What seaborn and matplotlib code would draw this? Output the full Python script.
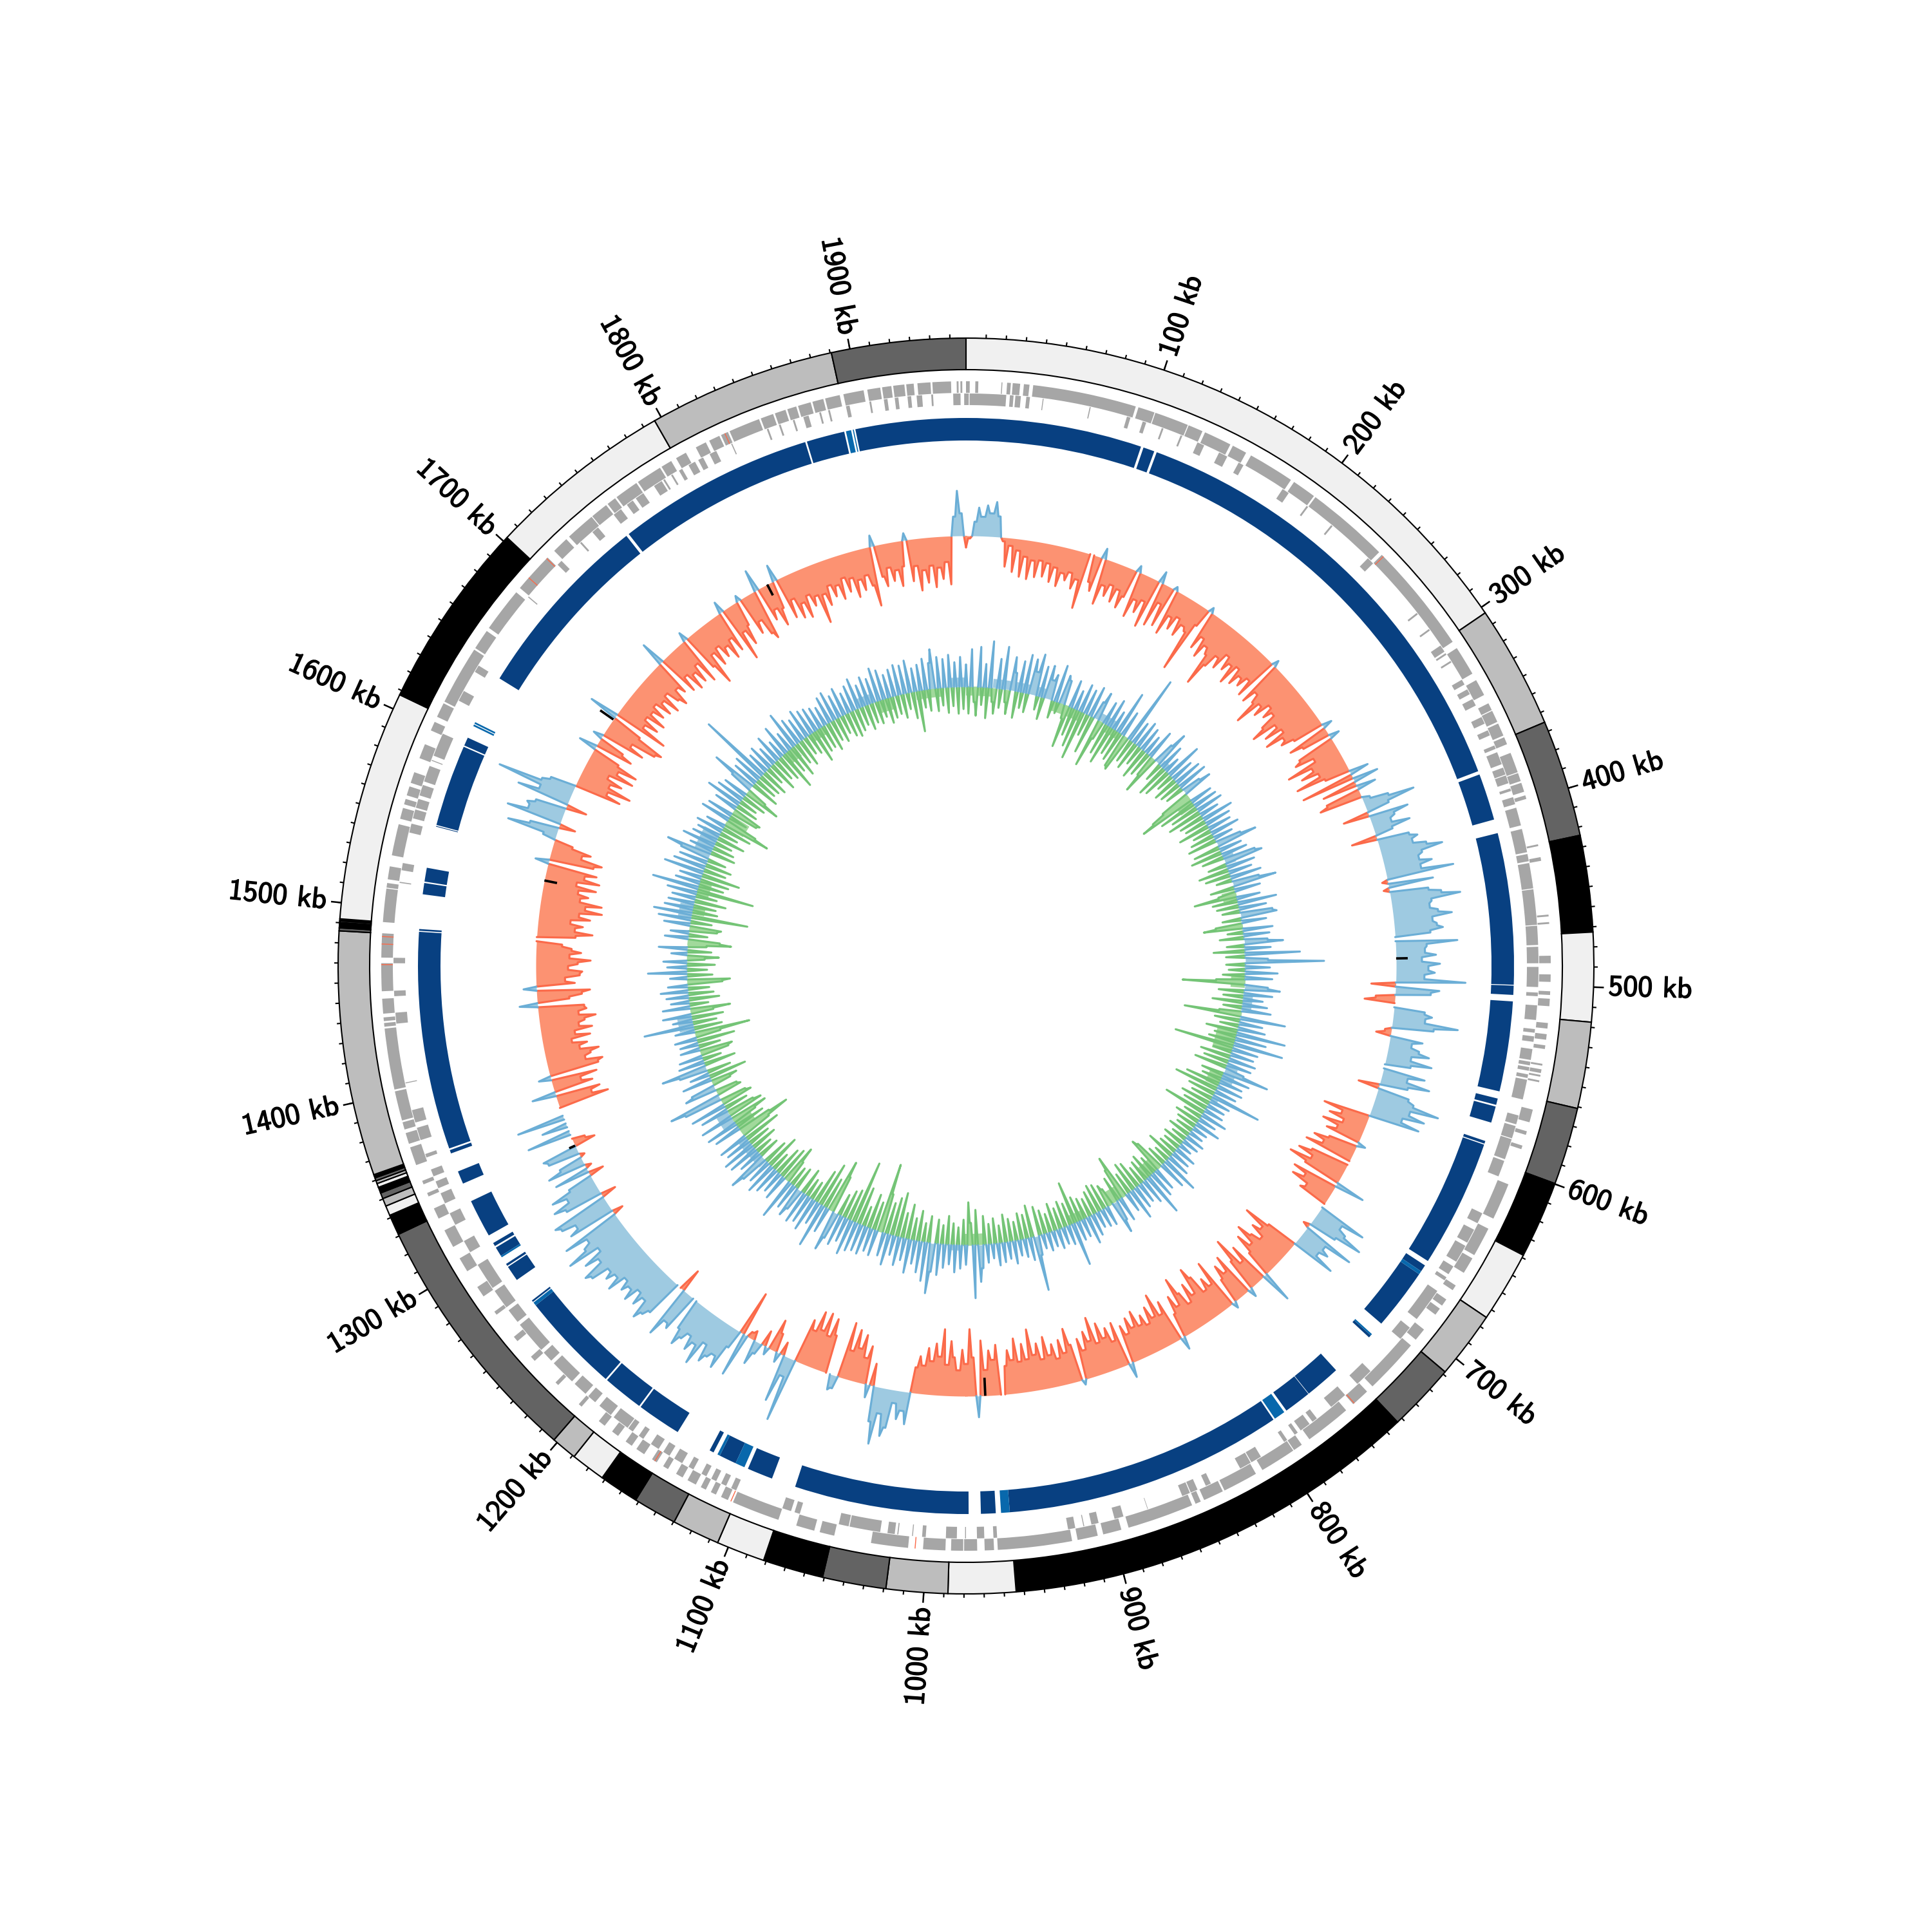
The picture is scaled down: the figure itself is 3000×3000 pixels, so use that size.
import numpy as np
import pandas as pd
import matplotlib
matplotlib.use("Agg")
import matplotlib.pyplot as plt
import matplotlib.patheffects as pe
import seaborn as sns

GENOME_KB = 1962
RULER_KB = 1958
WINDOW_KB = 3

BAND_STARTS = [0,304,366,425,473.6,518.5,562,601,640,676,710,744.4,956,990,1021,1053,1083.5,1108,1132,1154,1174,1191.5,1204.5,
               1333.6,1344,1349,1353,1356,1359,1361,1362.5,1364,1365,1365.7,1489,1490.5,1492,1492.6,1493.2,1494,1495,1611,1706,1800,1894.5]
BAND_TONES = list("lgdblgdblgdblgdblgdblgd" + "blgdblgdblg" + "dblgdb" + "lblgd")

COVERED_DARK = [(1898.5,1962),(0,101.5),(103,109.5),(111,377),(379,406),(414,501.2),(501.7,507),(510.7,562.6),(566.8,570.5),(571.5,581),
                (592,593.6),(594.2,668),(671,675),(677,712.5),(721.5,723),(749.5,770),(770.3,786),(795,956),(964,972.5),(979.5,1080),
                (1094,1108.8),(1116.5,1126.5),(1130.5,1133),(1154,1179.5),(1180.5,1204),(1205,1263),(1265.5,1266.5),(1281,1290),
                (1290.7,1292),(1297.5,1303),(1304,1306),(1311,1333),(1344,1351.5),(1362.5,1364.5),(1365.5,1491),(1491.6,1492.6),
                (1512.5,1519),(1519.8,1527.8),(1551.8,1552.2),(1552.8,1600),(1600.8,1605.7),(1644,1753.3),(1755,1869),(1870,1892)]
COVERED_LIGHT = [(1893,1896),(1897,1897.6),(675,677),(720.5,721.5),(787.5,794),(956,961),(1111,1116.5),(1126.5,1128),(1263,1265),
                 (1296.5,1297.5),(1613,1614),(1614.5,1615.5)]

GENES_OUTER = [(0,2),(5,6.6),(19,19.5),(22,24),(25,29),(31,34),(36,92),(93.5,102.5),(103,121.5),(122,130),(131.5,146.5),(148,156),(159,184),
               (186,199),(200,245),(247,307),(311,327),(331,340),(345,349),(349.5,356),(357,364),(365,369),(374,385),(385.5,390),(391,396),
               (398,400),(425,426),(432,434),(463,464),(467,468),(485,489),(495,499),(504,506),(508,512),(521,524),(527,530),(533,535),
               (543,544),(546,548),(549,550),(552,553),(568,575),(580,582),(588,590),(610,630),(636,652),(654,663),(671,674),(680,684),
               (686,690),(700,707),(711,741),(745,755),(760,785),(790,795),(795.5,815),(819,838),(839,850),(852,855),(857,893),(897,907),
               (910,921),(924,964),(966,971),(975,982),(982.5,989),(992,1004),(1012,1032),(1052,1060),(1063,1073),(1083,1109),(1112,1116),
               (1119,1122),(1125,1128),(1131,1136),(1139,1143),(1148,1151),(1155,1158),(1163,1168),(1171,1175),(1180,1184),(1189,1193),
               (1205,1207),(1222,1224),(1240,1243),(1254,1257),(1272,1274),(1284,1290),(1300,1308),(1315,1325),(1332,1338),(1345,1347),
               (1352,1354),(1363,1373),(1375,1381),(1383,1387),(1388,1404),(1405,1438),(1439,1441),(1442,1444),(1446,1454),(1458,1473),
               (1476,1489),(1495,1513),(1513.5,1516),(1518,1525),(1531,1548),(1551,1557),(1559,1562),(1564,1569),(1571,1577),(1585,1593),
               (1601,1606),(1609,1617),(1618,1650),(1651,1662),(1664,1688),(1691,1713),(1718,1727),(1729,1745),(1745.5,1755),(1756,1761),
               (1762,1775),(1776,1790),(1791,1797),(1800,1806),(1812,1818),(1820,1826),(1827,1831),(1832,1849),(1850,1857),(1858,1864),
               (1865,1870),(1871,1878),(1879,1885),(1886,1894),(1896,1907),(1909,1916),(1917,1922),(1923,1929),(1930,1934),(1936,1943),
               (1944,1954),(1957,1958),(1959,1960)]
GENES_INNER = [(0,1.5),(2,22),(24,26),(27,30),(33,35),(42,42.5),(68,68.6),(89,91),(98,100),(109,110),(120,121),(130,134),(143,148),(155,158),
               (183,187),(199,200),(216,217),(243,247),(283,284),(294,295),(305,309),(310,311),(315,316),(327,330),(333,336),(339,343),
               (350,354),(358,361),(367,369),(371,378),(380,384),(384.5,389),(392,393.5),(397,401),(403,413),(415,428),(429,433),(434,448),
               (448.5,468),(468.5,479),(480,489),(491,502),(505,507),(512,520),(525,527),(529,532),(536,542),(543,545),(546,548),(550,552),
               (553,564),(573,578),(579,586),(586.5,598),(599,608),(630,636),(640,648),(650,660),(663,668),(670,672),(679,698),(704,712),
               (736,746),(755,765),(775,778),(780,786),(788,790),(795,797),(812,818),(818.5,825),(843,846),(851,855),(855.5,860),(880,880.3),
               (894,899),(908,912),(916,916.5),(921,925),(964,966),(971,975),(981,981.5),(986,992),(1003,1005),(1010,1010.5),(1018,1018.6),
               (1020,1024),(1028,1045),(1045.5,1051),(1073,1076),(1078,1083),(1110,1113),(1116,1119),(1122,1125),(1128,1131),(1136,1139),
               (1143,1148),(1151,1155),(1158,1163),(1168,1171),(1175,1178),(1178.5,1188),(1190,1198),(1201,1206),(1208,1216),(1218,1232),
               (1234,1240),(1242,1260),(1262,1270),(1272,1283),(1285,1300),(1308,1315),(1325,1332),(1338,1344),(1347,1351),(1354,1358),
               (1365,1367),(1375,1382),(1385,1392),(1407,1407.5),(1440,1446),(1455,1458),(1473,1476),(1517,1517.6),(1524,1528),(1545,1550),
               (1553,1558),(1559,1564),(1566,1572),(1574,1583),(1586,1586.5),(1589,1602),(1622,1628),(1640,1644),(1690,1690.6),(1714,1717),
               (1731,1732),(1740,1744),(1755,1760),(1764,1768),(1770,1775),(1782,1787),(1788,1789),(1793,1794),(1798,1800),(1804,1808),
               (1810,1813),(1817,1821),(1830,1830.6),(1851,1852),(1858,1859),(1866,1867),(1872,1875),(1881,1882),(1886,1887),(1896,1898),
               (1909,1910),(1917,1919),(1923,1925),(1930,1932),(1935,1938),(1943,1944),(1955,1959),(1961,1962)]
GENES_RED = [248,754,1008,1110,1156,1472,1483,1487,1698,1712,1829]

OUTER_TRACK = [
 -18,-4,22,44,30,48,36,54,32,-6,-45,-12,-52,-18,-58,-26,-60,-30,-55,-28,
 -52,-30,-58,-34,-62,-40,-50,-36,-60,-44,-88,0,-42,-55,16,-72,-40,-55,-35,-60,
 -38,-65,-45,10,-72,-42,-60,-38,-78,18,-70,-30,-65,6,-72,-40,-58,-35,-62,-42,
 -48,-111,-30,8,-62,-40,-70,-48,-58,-108,-72,-50,-66,-38,-60,-46,-75,-42,-68,-50,
 -62,-44,-70,10,-72,-50,-64,-99,-58,-74,-48,-66,-52,-78,-99,-60,-84,-56,-90,-62,
 -70,-50,15,-65,-45,16,-60,-70,-40,-89,-50,-72,-45,-86,-40,30,-84,40,-55,30,
 -55,-68,12,40,80,36,-41,62,38,30,58,28,-40,50,62,52,72,96,62,55,
 74,55,105,-9,70,-9,60,79,108,62,58,70,91,60,66,75,55,0,96,48,
 45,62,40,68,50,60,44,108,-38,68,55,-30,-47,0,48,60,50,102,65,-10,
 -23,51,35,48,65,38,72,40,0,66,40,77,44,-33,50,60,102,58,84,50,
 80,-73,-42,-60,-35,-66,-40,-55,13,-45,-68,-50,-76,0,-60,-80,-55,-89,-60,47,
 -72,-50,-68,-40,-47,0,78,42,55,87,45,-10,84,40,52,38,70,-50,-90,-55,
 -68,-45,-60,-82,-50,-72,-42,50,-65,-40,-88,-52,14,-70,-45,-62,-40,10,-81,-44,
 -60,-42,-72,-90,-48,-70,-40,-62,-90,-46,-66,-38,20,-67,-48,-85,-50,-70,-44,-62,
 -48,-74,-50,-68,-44,-60,23,-70,-42,-66,-52,-78,-48,-91,-55,-72,-44,-64,8,-58,
 -85,-48,-70,-42,-66,-50,-80,-46,-72,-55,-96,-50,-75,-48,-85,-52,-68,-44,0,-78,
 -55,-70,-40,-86,33,-60,-104,-50,-72,-40,-60,-85,-48,-103,-60,-80,-52,-72,-44,-58,
 -40,50,30,44,20,60,74,40,89,55,-35,20,-60,-40,-75,-52,-80,-45,-88,20,
 24,0,-60,-85,-55,-90,-60,-88,-55,-70,100,30,74,-21,15,-30,-50,12,-25,18,
 38,-15,-10,69,-71,30,70,52,60,72,45,85,55,70,48,60,75,50,0,62,
 55,83,-37,0,60,70,82,52,68,48,72,55,66,50,79,58,72,60,88,96,
 62,84,52,103,70,58,94,-17,75,60,82,90,-24,60,78,50,73,40,-24,55,
 -10,60,38,-8,50,56,-34,-20,0,69,0,40,0,75,0,0,-80,-55,-70,37,
 -62,-45,-72,19,-78,-86,-60,-70,-84,-55,-68,-45,-75,-52,-80,-60,-70,-88,-62,-75,
 -72,28,-50,-70,-83,20,-60,-45,-68,-72,-50,-65,-85,-52,-70,-55,-40,0,-60,-86,
 -58,-70,-50,-80,-62,-97,-70,-95,-60,-72,-55,-82,-50,-85,-60,-78,21,-70,-82,-48,
 -61,-30,20,79,45,-26,87,55,60,48,-33,83,50,121,52,40,-74,-50,-86,-48,
 -66,-40,-79,-50,-79,-45,28,-60,-42,15,-70,-46,-85,-94,-50,46,-87,-45,-66,-40,
 -70,-42,-60,-38,-64,-44,-70,-40,-60,-72,-46,-58,38,-66,-42,-72,-48,-68,-40,-76,
 14,-60,-93,-44,-68,-40,-62,-48,-72,-42,-66,18,-89,-45,-70,-40,9,-62,-44,-70,
 -80,34,-55,-40,-70,-44,26,-66,-38,-72,-50,-76,-42,-62,-48,-94,-50,-70,-40,-60,
 -44,-68,-36,-60,-40,-72,-46,-64,-42,-60,-93,17,-50,-66,-38,-60,-44,-70,-40,11,
 -65,-42,-81,-50,-70,-44,-78,-48,-66,-40,-75,30,70,35]

INNER_TRACK = [
 34,-42,58,-24,-45,62,-28,36,-48,72,-22,-40,46,-30,66,-20,-38,52,28,-42,
 48,-25,60,-30,55,36,65,-22,48,-35,52,30,40,-28,58,-18,45,38,-22,-67,
 43,-45,30,-60,44,-77,39,-35,48,-60,28,45,-77,-30,36,-50,45,-62,30,-42,
 68,-48,40,-55,-59,109,-38,36,-45,43,-32,38,-50,30,-40,46,-35,-63,34,58,
 -30,40,-52,25,-46,58,-28,36,-40,44,-35,48,-30,30,47,-48,-70,-90,35,-60,
 38,-45,42,-55,30,-40,49,-35,40,-50,36,-30,45,-38,30,-46,40,64,-42,35,
 -50,40,-35,50,60,-30,44,-48,36,-40,48,-25,42,68,-38,40,-28,-67,36,-40,
 60,-35,42,-28,50,56,-30,38,-42,-61,46,-25,40,-38,36,60,-28,40,-49,85,
 -30,35,122,-30,38,-26,50,-35,42,-45,-97,36,55,-40,44,-32,30,-48,38,-30,
 45,-35,-89,70,-40,36,-30,42,-50,76,-35,48,-42,77,-94,40,-30,36,-48,42,
 -40,38,-52,30,71,-36,44,-32,36,-55,40,-70,34,-44,78,-35,32,-48,28,-40,
 30,-68,41,-30,28,-40,40,-32,24,-28,22,-36,30,-25,26,-34,20,-28,34,-30,
 30,-45,36,-26,59,-32,44,-50,-58,36,-30,42,-40,67,-35,40,-30,32,-44,36,
 -48,49,-35,30,-70,-50,38,-40,32,51,-28,-36,30,-42,28,-45,25,-38,34,-30,
 43,-34,28,-40,30,-67,67,-36,30,-42,26,-34,30,-44,24,-30,28,-38,22,-46,
 30,85,-51,35,-38,28,-42,24,-30,35,-36,26,-44,30,-28,34,-40,22,-32,28,
 -45,36,57,-55,82,-35,-67,30,-40,36,-28,42,-34,30,-45,36,-30,48,-38,44,
 78,-42,60,-30,48,-48,36,-35,52,-55,34,-40,44,-70,30,-60,48,-50,36,-62,
 -109,40,-45,36,-55,44,-32,42,-60,46,-99,55,-50,38,-45,48,-35,42,63,-60,
 -84,40,-50,69,-71,36,-55,52,-30,44,-30,50,-42,34,48,-36,40,-32,64,-38,
 -61,40,-52,34,-46,42,-30,50,-55,38,-40,44,63,-34,36,-28,48,-42,52,-36,
 40,-60,46,-50,-86,-55,42,-48,50,-40,-60,52,-57,-45,44,-38,56,-50,-42,60,
 83,-40,-35,50,38,-30,-42,46,-60,30,-38,44,71,-50,40,-30,36,-45,-52,30,
 -35,28,-60,34,-40,-87,30,-45,77,-38,30,-50,44,-36,-63,42,-30,28,-48,34,
 -40,42,-34,30,-55,-67,26,-40,60,-32,30,-44,36,-28,-50,24,-38,44,-30,-68,
 -50,36,-30,28,-44,-50,40,-34,50,-89,59,-40,44,-36,40,-50,36,-34,46,-90,
 72,-40,38,-46,34,-61,62,-36,50,-42,44,-30,46,70,-40,36,-35,52,-28,40,
 -45,36,-30,42,-48,30,-75,-52,46,-30,40,-44,-48,36,-36,56,-30,44,-40,38,
 -59,-34,36,71,-46,40,-36,46,-38,114,-44,34,-30,40,-48,30,-36,44,-42,28,
 -63,48,-40,30,-52,59,-36,42,-44,36,-30,46,-34,40,-52,38,-40,34,-38,30,
 -46,42,-34,46,-40,36,-30,44,-38,32,-42,40,-36,48,-30,34,-40,44,-32,38,
 -36,52,-28,46,-40,36,-34,42,-30,47,-38,44,-26,50,-42,36,-64,40,-28,48,
 -34,40,61,-36,48,-28,44,-40,50,-30,38,-42,46,-35]

# stretches where the inner track keeps a solid pale band next to its baseline: (start, end, depth)
INNER_GREEN_BANDS = [(0,30,14),(100,135,16),(165,185,12),(285,300,26),(405,415,22),(500,515,22),(565,590,32),(615,630,22),(745,760,22),
                     (790,810,22),(845,860,15),(960,985,18),(1275,1290,30),(1495,1500,26),(1530,1540,20),(1550,1570,20),(1635,1650,34),
                     (1740,1755,20),(1775,1795,14),(1860,1880,20),(1905,1935,14)]
INNER_BLUE_BANDS = [(30,90,14),(155,175,12),(240,250,10),(365,375,16),(520,540,14),(605,625,18),(640,650,10),(985,1000,8),(1230,1265,14),
                    (1285,1300,20),(1400,1415,22),(1525,1540,20),(1600,1625,26),(1840,1855,14),(1945,1962,14)]

BLACK_KB = [485,967,1337,1534,1662,1812]
BLACK_VAL = [18,-28,10,-20,25,-19]

TICK_LABELS = [f"{k} kb" for k in range(100, 2000, 100)]

# ---- styles ----
CENTER_BASE = 434
OUTER_BASE = 668
TONE = {"l": "#f0f0f0", "g": "#bdbdbd", "d": "#636363", "b": "#000000"}
NAVY, BLUE_MID = "#084081", "#0868ac"
BLUE_F, BLUE_L = "#9ecae1", "#6baed6"
RED_F, RED_L = "#fc9272", "#fb6a4a"
GREEN_F, GREEN_L = "#a1d99b", "#74c476"
GENE_GREY = "#a6a6a6"

sns.set_theme(style="white", rc={"axes.grid": False})
plt.rcParams["axes.unicode_minus"] = False

fig = plt.figure(figsize=(10, 10), dpi=300, facecolor="white")
ax = fig.add_axes([0, 0, 1, 1], projection="polar")
ax.set_theta_zero_location("N")
ax.set_theta_direction(-1)
ax.set_axis_off()

to_theta = lambda kb: np.asarray(kb, float) * 2 * np.pi / GENOME_KB


def arcs(pairs, bottom, height, **kw):
    a = np.array(pairs, float)
    ax.bar(to_theta(a[:, 0]), height, width=to_theta(a[:, 1] - a[:, 0]), bottom=bottom,
           align="edge", linewidth=0, **kw)


def peaks(values):
    """Each window is drawn as a sharp peak: between two windows the profile rests
    on the smaller of the two values (or on the baseline when their signs differ)."""
    v = np.array(list(values) + [values[0]], float)
    kb = np.arange(len(v)) * WINDOW_KB
    kb[-1] = GENOME_KB
    xs, ys = [], []
    for i in range(len(v)):
        xs.append(kb[i]); ys.append(v[i])
        if i + 1 < len(v):
            rest = 0.0 if v[i] * v[i + 1] <= 0 else np.sign(v[i]) * min(abs(v[i]), abs(v[i + 1]))
            xs.append((kb[i] + kb[i + 1]) / 2)
            ys.append(rest)
    return np.array(xs), np.array(ys)


def track(values, base, neg_fill, neg_line, pos_fill, pos_line):
    kb, v = peaks(values)
    th = to_theta(kb)
    for sign, fill, line, z in ((-1, neg_fill, neg_line, 3), (1, pos_fill, pos_line, 4)):
        part = np.where(sign * v > 0, v, 0.0)
        ax.fill_between(th, base, base + part, color=fill, linewidth=0, zorder=z)
        on = part != 0
        keep = on | np.r_[on[1:], False] | np.r_[False, on[:-1]]
        runs = np.cumsum(~keep)
        df = pd.DataFrame({"t": th, "r": base + part, "run": runs})[keep]
        sns.lineplot(data=df, x="t", y="r", units="run", estimator=None, sort=False,
                     color=line, linewidth=0.75, ax=ax, legend=False, zorder=z + 0.5)


# ideogram
starts = np.array(BAND_STARTS, float)
ends = np.r_[starts[1:], GENOME_KB]
tones = [TONE[t] for t in BAND_TONES]
ax.bar(to_theta(starts), 49, width=to_theta(ends - starts), bottom=926, align="edge",
       color=tones, edgecolor="black", linewidth=0.5, zorder=2)

# ticks
ruler = GENOME_KB / RULER_KB
minor = np.arange(10, RULER_KB, 10)
ax.vlines(to_theta(minor * ruler), 975, 981, color="black", linewidth=0.5, zorder=2)
major = np.arange(100, RULER_KB, 100)
ax.vlines(to_theta(major * ruler), 975, 991, color="black", linewidth=0.6, zorder=2)
for kb, label in zip(major, TICK_LABELS):
    deg = kb * 360 / RULER_KB
    if deg <= 180:
        rot, ha = 90 - deg, "left"
    else:
        rot, ha = 270 - deg, "right"
    ax.text(to_theta(kb * ruler), 998, label, rotation=rot, rotation_mode="anchor", ha=ha, va="center",
            family="cmss10", fontsize=11, color="black",
            path_effects=[pe.withStroke(linewidth=0.35, foreground="black")])

# gene track
arcs(GENES_OUTER, 890, 18, color=GENE_GREY, zorder=2)
arcs(GENES_INNER, 871, 18, color=GENE_GREY, zorder=2)
arcs([(k, k + 0.5) for k in GENES_RED], 890, 18, color=RED_L, zorder=2.5)

# covered blocks
arcs(COVERED_DARK, 816, 35, color=NAVY, zorder=2)
arcs(COVERED_LIGHT, 816, 35, color=BLUE_MID, zorder=2)

# signal tracks
for s, e, d in INNER_GREEN_BANDS:
    arcs([(s, e)], CENTER_BASE - d, d, color=GREEN_F, zorder=2.8)
for s, e, h in INNER_BLUE_BANDS:
    arcs([(s, e)], CENTER_BASE, h, color=BLUE_F, zorder=3.8)
track(OUTER_TRACK, OUTER_BASE, RED_F, RED_L, BLUE_F, BLUE_L)
track(INNER_TRACK, CENTER_BASE, GREEN_F, GREEN_L, BLUE_F, BLUE_L)
ax.vlines(to_theta(BLACK_KB), OUTER_BASE, OUTER_BASE + np.array(BLACK_VAL), color="black",
          linewidth=0.9, zorder=6)

ax.set_xlabel("")
ax.set_ylabel("")
ax.set_ylim(0, 1500)
fig.savefig("out.png", dpi=300, facecolor="white")
